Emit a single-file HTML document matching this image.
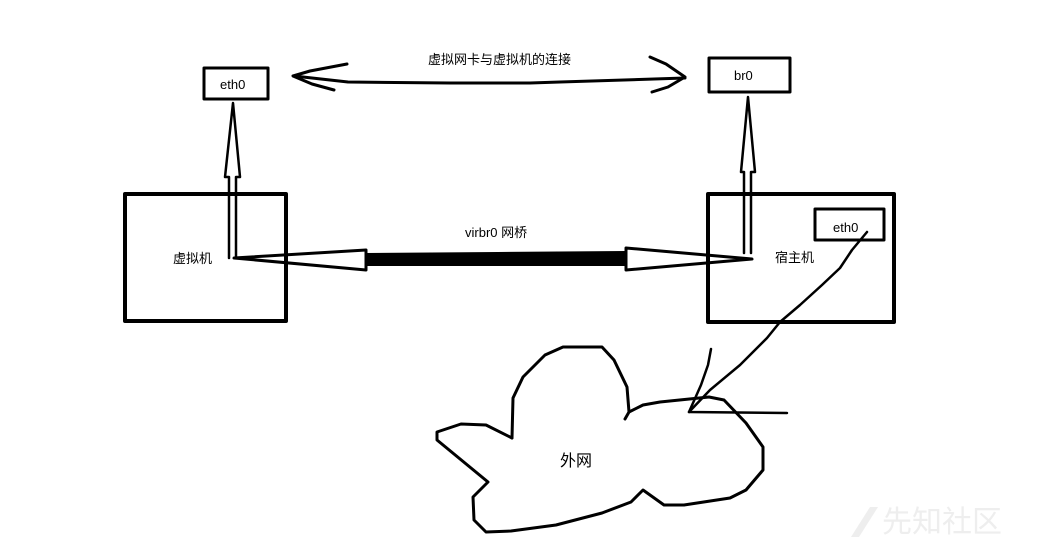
<!DOCTYPE html>
<html><head><meta charset="utf-8"><style>
html,body{margin:0;padding:0;background:#fff;width:1062px;height:548px;overflow:hidden}
svg text{font-family:"Liberation Sans","Noto Sans CJK SC",sans-serif;font-size:13px;fill:#000}
</style></head><body>
<svg width="1062" height="548" viewBox="0 0 1062 548" xmlns="http://www.w3.org/2000/svg">
<g fill="none" stroke="#000" stroke-linejoin="round" stroke-linecap="round">
<!-- boxes -->
<rect x="125" y="194" width="161" height="127" stroke-width="4"/>
<rect x="204" y="68" width="64" height="31" stroke-width="3"/>
<rect x="708" y="194" width="186" height="128" stroke-width="4"/>
<rect x="709" y="58" width="81" height="34" stroke-width="3"/>
<rect x="815" y="209" width="69" height="31" stroke-width="3"/>
<!-- top double arrow -->
<path d="M294,76 L348,82 L450,83 L530,83 L560,82 L685,78" stroke-width="3"/>
<path d="M347,64 L310,71 L293,76 L312,84 L334,90" stroke-width="3"/>
<path d="M650,57 L666,64 L685,77 L668,87 L652,92" stroke-width="3"/>
<!-- left vertical arrow -->
<path d="M229,258 L229,177 L225,177 L233,103 L240,177 L236,177 L236,258" stroke-width="2.5"/>
<!-- right vertical arrow -->
<path d="M744,253 L744,172 L741,172 L748,97 L755,172 L751,172 L751,253" stroke-width="2.5"/>
<!-- horizontal arrows -->
<path d="M234,258 L366,250 L366,270 Z" stroke-width="3"/>
<path d="M752,259 L626,248 L626,270 Z" stroke-width="3"/>
<!-- diagonal & lines -->
<path d="M867,232 L852,250 L840,268 L822,285 L800,305 L780,322 L767,338 L740,365 L710,390 L689,412" stroke-width="2.5"/>
<path d="M711,349 L708,365 L701,385 L689,412 L787,413" stroke-width="2.5"/>
<!-- cloud -->
<path d="M512,438 L513,398 L523,377 L545,355 L563,347 L602,347 L614,360 L627,387 L629,412 L625,419" stroke-width="3"/>
<path d="M629,412 L643,405 L660,402 L709,397 L724,400 L746,423 L763,447 L763,470 L746,490 L730,498 L684,505 L664,505 L643,490 L631,502 L602,513 L556,525 L511,531 L486,532 L474,520 L473,497 L488,482 L437,440 L437,432 L461,424 L486,425 L512,438" stroke-width="3"/>
</g>
<rect x="230" y="251" width="396" height="0" fill="none"/>
<path d="M366,253 L498,252 L626,251 L626,266 L498,266 L366,266 Z" fill="#000"/>
<text x="220" y="89">eth0</text>
<text x="734" y="80">br0</text>
<text x="833" y="232">eth0</text>
<text x="173" y="263">虚拟机</text>
<text x="775" y="262">宿主机</text>
<text x="428" y="64">虚拟网卡与虚拟机的连接</text>
<text x="465" y="237">virbr0 网桥</text>
<text x="560" y="466" style="font-size:16px">外网</text>
<path d="M851,537 L870,507 L878,507 L859,537 Z" fill="#eee"/>
<text x="882" y="532" style="font-size:30px;fill:#eee">先知社区</text>
</svg>
</body></html>
